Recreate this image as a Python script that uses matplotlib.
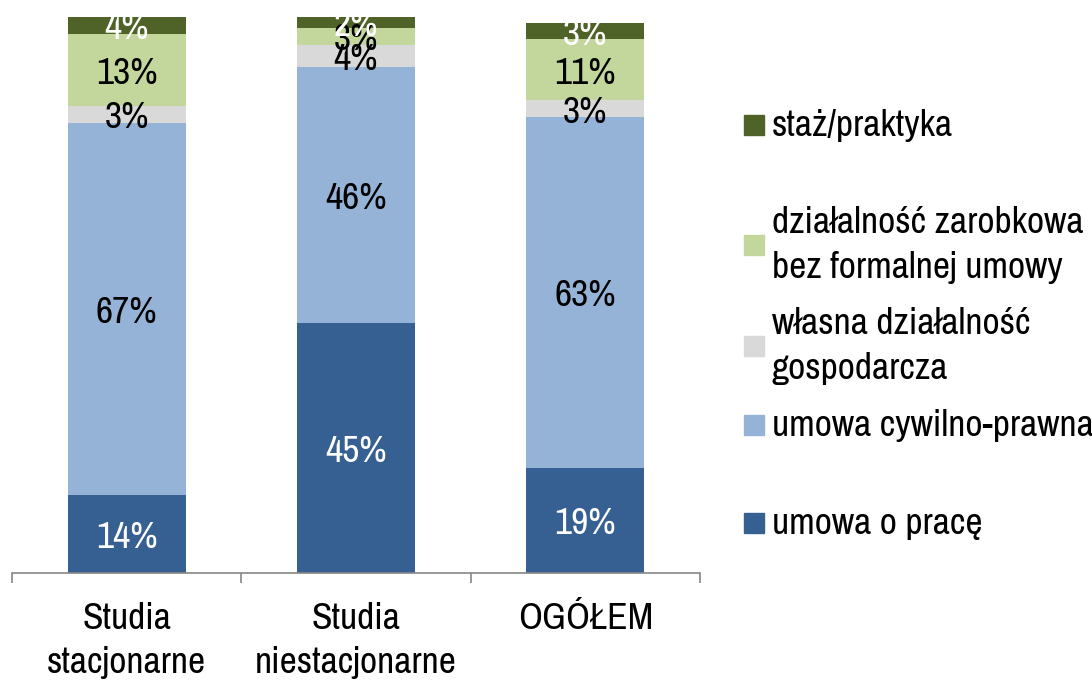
import matplotlib.pyplot as plt
from matplotlib.patches import Rectangle
import numpy as np

plt.rcParams['font.family'] = ['Archivo Narrow', 'Liberation Sans', 'DejaVu Sans']

categories = ['Studia\nstacjonarne', 'Studia\nniestacjonarne', 'OGÓŁEM']
series_names = ['umowa o pracę', 'umowa cywilno-prawna',
                'własna działalność\ngospodarcza',
                'działalność zarobkowa\nbez formalnej umowy', 'staż/praktyka']
umowa_o_prace = [14, 45, 19]
umowa_cywilno = [67, 46, 63]
wlasna_dzialalnosc = [3, 4, 3]
bez_umowy = [13, 3, 11]
staz = [4, 2, 3]

colors = ['#376092', '#95B3D7', '#D9D9D9', '#C3D69B', '#4F6228']
text_colors = ['white', 'black', 'black', 'black', 'white']

series = [umowa_o_prace, umowa_cywilno, wlasna_dzialalnosc, bez_umowy, staz]

fig = plt.figure(figsize=(10.92, 6.8), dpi=100)
ax = fig.add_axes([0.011, 0.157, 0.63, 0.818])

x = np.arange(len(categories))
bottom = np.zeros(len(categories))
for vals, c, tc in zip(series, colors, text_colors):
    vals = np.array(vals, dtype=float)
    ax.bar(x, vals, bottom=bottom, width=0.514, color=c, edgecolor='none')
    for xi, b, v in zip(x, bottom, vals):
        top = min(b + v, 100)
        ax.text(xi, (b + top) / 2 - 0.6, f'{int(v)}%', ha='center', va='center',
                fontsize=27, color=tc)
    bottom += vals

ax.set_ylim(0, 100)
ax.set_xlim(-0.5, 2.5)
for s in ['top', 'right', 'left']:
    ax.spines[s].set_visible(False)
ax.spines['bottom'].set_color('#868686')
ax.spines['bottom'].set_linewidth(1.2)
ax.set_yticks([])
ax.set_xticks(x)
ax.set_xticklabels(categories, fontsize=27, linespacing=1.38)
ax.tick_params(axis='x', which='major', length=0, pad=21)
ax.set_xticks([-0.5, 0.5, 1.5, 2.5], minor=True)
ax.tick_params(axis='x', which='minor', length=7, width=1.2, color='#868686',
               direction='out')

# legend, drawn entry by entry (top to bottom)
legend_y = [125, 245, 346, 425, 523]
for name, c, y in zip(series_names[::-1], colors[::-1], legend_y):
    yf = 1 - y / 680
    fig.patches.append(Rectangle((744 / 1092, yf - 10 / 680), 20 / 1092, 20 / 680,
                                 transform=fig.transFigure, color=c))
    fig.text(772 / 1092, yf, name, fontsize=27, va='center', ha='left',
             linespacing=1.45)

fig.savefig('out.png', dpi=100)
